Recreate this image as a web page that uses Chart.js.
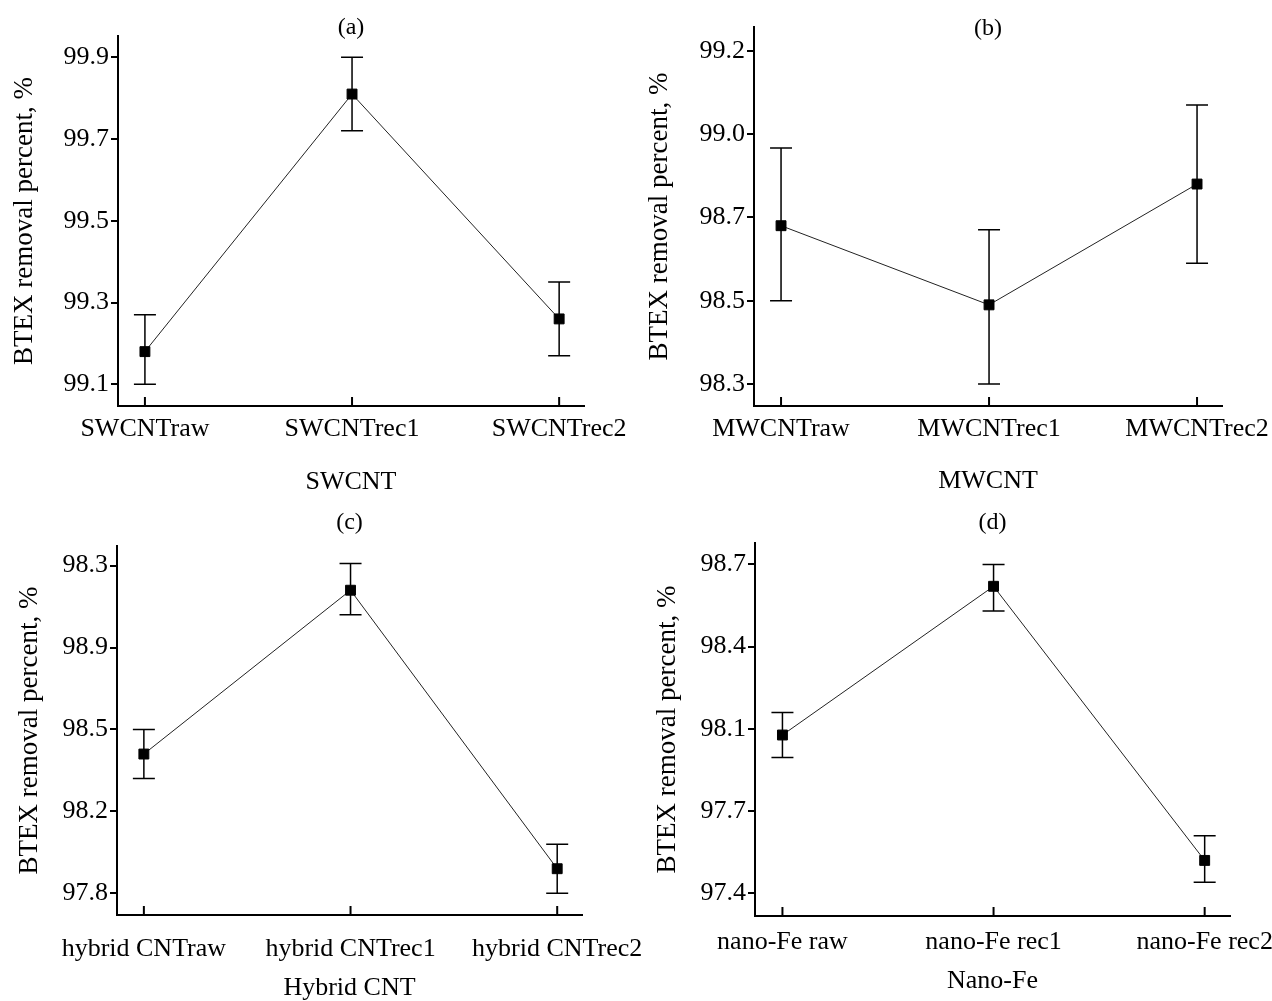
<!DOCTYPE html>
<html>
<head>
<meta charset="utf-8">
<script src="https://cdn.jsdelivr.net/npm/chart.js@4.4.1/dist/chart.umd.min.js"></script>
<style>
  body { margin: 0; background: #fff; width: 1272px; height: 1001px; position: relative; overflow: hidden; }
  canvas { position: absolute; }
</style>
</head>
<body>
<canvas id="pa" width="680" height="500" style="left:0;top:0"></canvas>
<canvas id="pb" width="636" height="500" style="left:636px;top:0"></canvas>
<canvas id="pc" width="680" height="501" style="left:0;top:500px"></canvas>
<canvas id="pd" width="636" height="501" style="left:636px;top:500px"></canvas>
<script>
// (a) SWCNT
const swcntCats = ['SWCNTraw', 'SWCNTrec1', 'SWCNTrec2'];
const swcntMean = [99.18, 99.81, 99.26];
const swcntLow = [99.10, 99.72, 99.17];
const swcntHigh = [99.27, 99.90, 99.35];
const swcntTicks = [99.1, 99.3, 99.5, 99.7, 99.9];
const swcntTickText = ['99.1', '99.3', '99.5', '99.7', '99.9'];

// (b) MWCNT
const mwcntCats = ['MWCNTraw', 'MWCNTrec1', 'MWCNTrec2'];
const mwcntMean = [98.68, 98.49, 98.82];
const mwcntLow = [98.50, 98.30, 98.59];
const mwcntHigh = [98.95, 98.67, 99.07];
const mwcntTicks = [98.3, 98.5, 98.7, 99.0, 99.2];
const mwcntTickText = ['98.3', '98.5', '98.7', '99.0', '99.2'];

// (c) Hybrid CNT (top label printed as 98.3 in the figure)
const hybridCats = ['hybrid CNTraw', 'hybrid CNTrec1', 'hybrid CNTrec2'];
const hybridMean = [98.41, 99.18, 97.92];
const hybridLow = [98.32, 99.06, 97.80];
const hybridHigh = [98.50, 99.31, 98.04];
const hybridTicks = [97.8, 98.2, 98.5, 98.9, 99.3];
const hybridTickText = ['97.8', '98.2', '98.5', '98.9', '98.3'];

// (d) Nano-Fe
const nanoFeCats = ['nano-Fe raw', 'nano-Fe rec1', 'nano-Fe rec2'];
const nanoFeMean = [98.07, 98.62, 97.52];
const nanoFeLow = [97.96, 98.53, 97.44];
const nanoFeHigh = [98.16, 98.70, 97.61];
const nanoFeTicks = [97.4, 97.7, 98.1, 98.4, 98.7];
const nanoFeTickText = ['97.4', '97.7', '98.1', '98.4', '98.7'];

const yTitle = 'BTEX removal percent, %';
const serif = '"Liberation Serif", "Times New Roman", serif';

// ticks on the figure are evenly spaced but not evenly valued,
// so map a value to its position between the tick marks
function toIdx(v, ticks) {
  let i = 0;
  while (i < ticks.length - 2 && v > ticks[i + 1]) i++;
  return i + (v - ticks[i]) / (ticks[i + 1] - ticks[i]);
}

const errorBars = {
  id: 'errorBars',
  beforeDatasetsDraw(chart, args, opts) {
    const { ctx, scales: { x, y } } = chart;
    ctx.save();
    ctx.strokeStyle = '#000';
    ctx.lineWidth = 1.5;
    opts.low.forEach((lo, i) => {
      const px = x.getPixelForValue(i);
      const yl = y.getPixelForValue(toIdx(lo, opts.ticks));
      const yh = y.getPixelForValue(toIdx(opts.high[i], opts.ticks));
      ctx.beginPath();
      ctx.moveTo(px, yl); ctx.lineTo(px, yh);
      ctx.moveTo(px - 11, yl); ctx.lineTo(px + 11, yl);
      ctx.moveTo(px - 11, yh); ctx.lineTo(px + 11, yh);
      ctx.stroke();
    });
    ctx.restore();
  }
};

const innerTicks = {
  id: 'innerTicks',
  afterDraw(chart) {
    const { ctx, chartArea, scales: { x } } = chart;
    ctx.save();
    ctx.strokeStyle = '#000';
    ctx.lineWidth = 2;
    x.ticks.forEach((t, i) => {
      const px = x.getPixelForTick(i);
      ctx.beginPath();
      ctx.moveTo(px, chartArea.bottom);
      ctx.lineTo(px, chartArea.bottom - 9);
      ctx.stroke();
    });
    ctx.restore();
  }
};

const panelTitle = {
  id: 'panelTitle',
  afterDraw(chart, args, opts) {
    const { ctx, chartArea } = chart;
    ctx.save();
    ctx.font = '24px ' + serif;
    ctx.fillStyle = '#000';
    ctx.textAlign = 'center';
    ctx.textBaseline = 'middle';
    ctx.fillText(opts.text, (chartArea.left + chartArea.right) / 2, opts.y);
    ctx.restore();
  }
};

function makePanel(id, p) {
  const canvas = document.getElementById(id);
  const font = { family: serif, size: 26, lineHeight: 1 };
  new Chart(canvas, {
    type: 'line',
    data: {
      datasets: [{
        data: p.mean.map((m, i) => ({ x: i, y: toIdx(m, p.ticks) })),
        borderColor: '#222',
        borderWidth: 1,
        pointStyle: 'rect',
        pointRadius: 7,
        pointBackgroundColor: '#000',
        pointBorderColor: '#000',
        pointBorderWidth: 1
      }]
    },
    options: {
      responsive: false,
      animation: false,
      layout: {
        padding: {
          left: 0,
          top: p.area.top,
          right: canvas.width - p.area.right,
          bottom: canvas.height - p.area.bottom - p.xH
        }
      },
      plugins: {
        legend: { display: false },
        tooltip: { enabled: false },
        errorBars: { low: p.low, high: p.high, ticks: p.ticks },
        panelTitle: { text: p.title, y: p.titleY }
      },
      scales: {
        x: {
          type: 'linear',
          min: -0.13,
          max: 2.12,
          afterBuildTicks: s => { s.ticks = p.cats.map((c, i) => ({ value: i })); },
          afterFit: s => { s.height = p.xH; s.paddingLeft = 0; s.paddingRight = 0; },
          ticks: { callback: v => p.cats[v], font: font, color: '#000', padding: p.labelPad, maxRotation: 0, autoSkip: false },
          grid: { display: false, drawTicks: false },
          border: { display: true, color: '#000', width: 2 },
          title: { display: true, text: p.axisTitle, font: font, color: '#000', padding: 0 }
        },
        y: {
          type: 'linear',
          min: p.yMin,
          max: p.yMax,
          afterBuildTicks: s => { s.ticks = p.ticks.map((t, i) => ({ value: i })); },
          afterFit: s => { s.width = p.area.left; s.paddingTop = 0; s.paddingBottom = 0; },
          ticks: { callback: v => p.tickText[v], font: font, color: '#000', padding: 2 },
          grid: { drawOnChartArea: false, drawTicks: true, tickLength: 7, color: '#000', lineWidth: 2 },
          border: { display: true, color: '#000', width: 2 },
          title: { display: true, text: yTitle, font: { family: serif, size: 27, lineHeight: 1 }, color: '#000', padding: { top: p.yTitlePad, bottom: 0 } }
        }
      }
    },
    plugins: [errorBars, innerTicks, panelTitle]
  });
}

makePanel('pa', {
  cats: swcntCats, mean: swcntMean, low: swcntLow, high: swcntHigh,
  ticks: swcntTicks, tickText: swcntTickText, axisTitle: 'SWCNT', title: '(a)',
  area: { left: 118, right: 584, top: 36, bottom: 406 }, xH: 89, titleY: 28,
  yMin: -0.265, yMax: 4.26, labelPad: 10, yTitlePad: 11
});
makePanel('pb', {
  cats: mwcntCats, mean: mwcntMean, low: mwcntLow, high: mwcntHigh,
  ticks: mwcntTicks, tickText: mwcntTickText, axisTitle: 'MWCNT', title: '(b)',
  area: { left: 118, right: 586, top: 27, bottom: 406 }, xH: 88, titleY: 29,
  yMin: -0.264, yMax: 4.285, labelPad: 10, yTitlePad: 10
});
makePanel('pc', {
  cats: hybridCats, mean: hybridMean, low: hybridLow, high: hybridHigh,
  ticks: hybridTicks, tickText: hybridTickText, axisTitle: 'Hybrid CNT', title: '(c)',
  area: { left: 117, right: 582, top: 46, bottom: 415 }, xH: 86, titleY: 23,
  yMin: -0.265, yMax: 4.24, labelPad: 21, yTitlePad: 16
});
makePanel('pd', {
  cats: nanoFeCats, mean: nanoFeMean, low: nanoFeLow, high: nanoFeHigh,
  ticks: nanoFeTicks, tickText: nanoFeTickText, axisTitle: 'Nano-Fe', title: '(d)',
  area: { left: 119, right: 594, top: 43, bottom: 416 }, xH: 78, titleY: 23,
  yMin: -0.276, yMax: 4.26, labelPad: 13, yTitlePad: 18
});
</script>
</body>
</html>
